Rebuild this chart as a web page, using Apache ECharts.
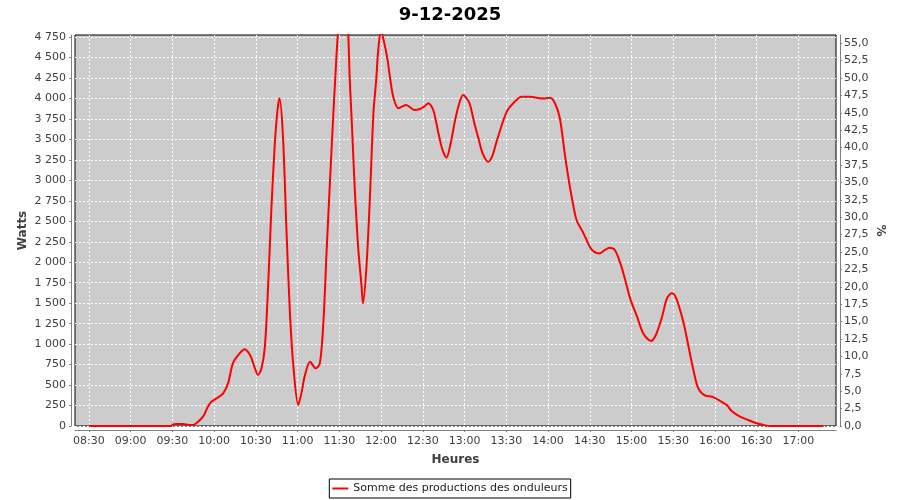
<!DOCTYPE html>
<html><head><meta charset="utf-8">
<script src="https://cdn.jsdelivr.net/npm/echarts@6/dist/echarts.min.js"></script>
<style>html,body{margin:0;padding:0;background:#fff}#c{width:900px;height:500px}</style>
</head><body><div id="c"></div>
<script>
const titleText = '9-12-2025';
const seriesName = 'Somme des productions des onduleurs';
// time in minutes after midnight
const timeMin = [510,540,569,570.5,573,578,581,584,586.5,592,595.5,598,602,606.5,610,613.5,618,622,626,629,631.5,634,636.5,639,641,643.5,645.5,647,649.5,652,654.5,657,660.5,663,665,669,673,676,678.5,681,684.5,687,689.5,693,696,697.5,699,701,703.5,706,707,709.5,712,714.5,716.5,718,720,722,724.5,726.5,729,732.5,735,738,741,744,748,751,754,757.5,761,764,767,770,773,776,779,782,784,787,790,793,797,800,803,808,811,815,821,827,834,838,841.5,845,848.5,852,854.5,857,860.5,865.5,870,873,877,881,884,888,892,895.5,899,904,908.5,914,917.5,922,925.5,929,931,933.5,937.5,941,944.5,948,953,958,962.5,968.5,972,978,984,990,995,1000,1038];
const watts = [0,0,0,20,25,25,15,12,25,114,236,297,340,399,520,765,880,937,860,720,623,700,969,1783,2597,3411,3850,4003,3533,2393,1376,724,256,420,602,785,704,765,1254,2190,3411,4226,4900,5300,4900,4226,3696,2930,2190,1701,1498,1945,2800,3818,4226,4600,4820,4700,4490,4246,4002,3880,3900,3920,3890,3859,3871,3900,3941,3859,3595,3380,3277,3450,3717,3930,4042,3990,3920,3700,3513,3330,3228,3300,3472,3737,3860,3941,4022,4022,4002,4000,4010,3941,3758,3330,3045,2800,2516,2353,2190,2130,2108,2150,2177,2149,1986,1783,1559,1335,1131,1038,1111,1335,1559,1620,1600,1498,1254,969,684,460,370,358,318,256,183,114,73,33,12,0,0];
const xTicks = [510,540,570,600,630,660,690,720,750,780,810,840,870,900,930,960,990,1020];
const wattTicks = [0,250,500,750,1000,1250,1500,1750,2000,2250,2500,2750,3000,3250,3500,3750,4000,4250,4500,4750];
const pctTicks = [0,2.5,5,7.5,10,12.5,15,17.5,20,22.5,25,27.5,30,32.5,35,37.5,40,42.5,45,47.5,50,52.5,55];
const xMin = 500, xMax = 1047;
const wattMax = 4775;
const ratedWatts = 8500;

const FF = 'DejaVu Sans';
const pad = n => (n < 10 ? '0' : '') + n;
const fmtTime = v => pad(Math.floor(v / 60)) + ':' + pad(Math.round(v % 60));
const fmtWatt = v => String(Math.round(v)).replace(/\B(?=(\d{3})+(?!\d))/g, ' ');
const fmtPct = v => v.toFixed(1).replace('.', ',');

const chart = echarts.init(document.getElementById('c'), null, {renderer: 'canvas'});
const axisCommon = {
  axisLine: {show: true, onZero: false, lineStyle: {color: '#808080', width: 1}},
  nameMoveOverlap: false,
  nameTextStyle: {fontFamily: FF, fontSize: 12, fontWeight: 'bold', color: '#404040'}
};
chart.setOption({
  animation: false,
  backgroundColor: '#ffffff',
  title: {text: titleText, left: 'center', top: 1,
    textStyle: {fontFamily: FF, fontSize: 18, fontWeight: 'bold', color: '#000'}},
  grid: {left: 75, right: 64, top: 35, bottom: 74, show: true, backgroundColor: '#cccccc',
    borderColor: '#000', borderWidth: 1, containLabel: false, outerBoundsMode: 'none'},
  legend: {data: [{name: seriesName, icon: 'rect'}], bottom: 2, left: 'center',
    borderColor: '#000', borderWidth: 1, borderRadius: 0, backgroundColor: '#fff',
    padding: [4, 3, 4, 3], itemWidth: 16, itemHeight: 2,
    textStyle: {fontFamily: FF, fontSize: 11, color: '#222'}},
  xAxis: Object.assign({}, axisCommon, {
    type: 'value', min: xMin, max: xMax, offset: 4,
    name: 'Heures', nameLocation: 'middle', nameGap: 24,
    axisTick: {show: true, length: 2, customValues: xTicks, lineStyle: {color: '#808080'}},
    axisLabel: {customValues: xTicks, formatter: fmtTime, fontFamily: FF, fontSize: 11, color: '#404040', margin: 6},
    splitLine: {show: true, lineStyle: {color: '#ffffff', type: [2, 2], width: 1}}
  }),
  yAxis: [
    Object.assign({}, axisCommon, {
      type: 'value', min: 0, max: wattMax, position: 'left', offset: 4,
      name: 'Watts', nameLocation: 'middle', nameRotate: 90, nameGap: 42,
      axisTick: {show: true, length: 2, customValues: wattTicks, lineStyle: {color: '#808080'}},
      axisLabel: {customValues: wattTicks, formatter: fmtWatt, fontFamily: FF, fontSize: 11, color: '#404040', margin: 5},
      splitLine: {show: true, lineStyle: {color: '#ffffff', type: [2, 2], width: 1}}
    }),
    Object.assign({}, axisCommon, {
      type: 'value', min: 0, max: wattMax * 100 / ratedWatts, position: 'right', offset: 4,
      name: '%', nameLocation: 'middle', nameRotate: -90, nameGap: 34,
      axisTick: {show: true, length: 2, customValues: pctTicks, lineStyle: {color: '#808080'}},
      axisLabel: {customValues: pctTicks, formatter: fmtPct, fontFamily: FF, fontSize: 11, color: '#404040', margin: 4},
      splitLine: {show: false}
    })
  ],
  series: [{
    name: seriesName, type: 'line', xAxisIndex: 0, yAxisIndex: 0,
    data: timeMin.map((t, i) => [t, watts[i]]),
    showSymbol: false, symbol: 'none', smooth: 0.3, clip: true,
    lineStyle: {color: '#ff0000', width: 2}, itemStyle: {color: '#ff0000'}
  }]
});
</script></body></html>
